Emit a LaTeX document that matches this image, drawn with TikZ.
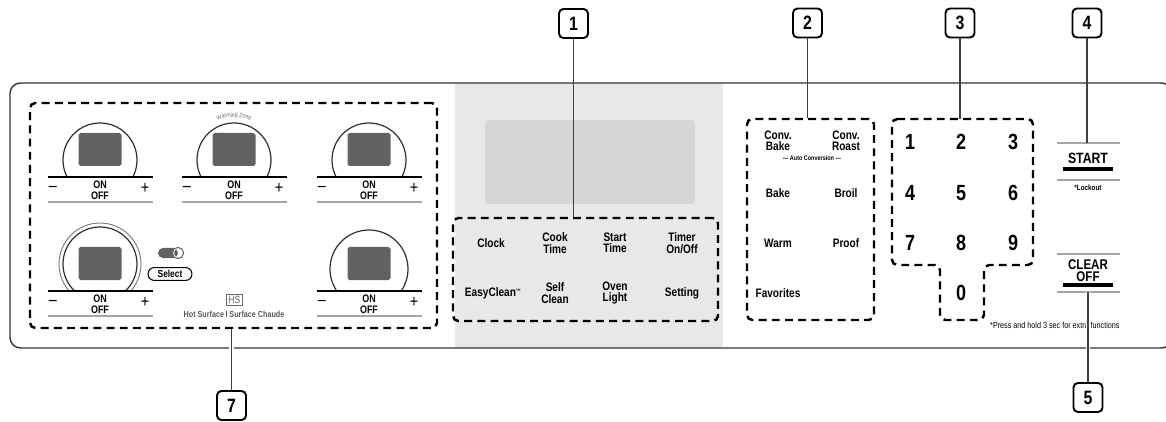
\documentclass[tikz,border=0pt]{standalone}
\usepackage{fontspec}
\setmainfont[FakeStretch=0.82]{Liberation Sans}
\usetikzlibrary{fit, decorations.text}
\definecolor{panelgrey}{RGB}{232,232,232}
\definecolor{displaygrey}{RGB}{214,214,214}
\definecolor{burnergrey}{RGB}{98,98,98}
\definecolor{linegrey}{RGB}{165,165,165}

\begin{document}
\begin{tikzpicture}[x=0.02cm, y=-0.02cm,
  callout/.style={draw, line width=1.1pt, rounded corners=2.5pt, minimum size=16.5pt, inner sep=0pt, font=\fontsize{11}{11}\selectfont\bfseries},
  callline/.style={draw=black!75, line width=0.6pt},
  knockout/.style={preaction={draw=white, line width=2.4pt}},
  dashbox/.style={draw, line width=1.4pt, dash pattern=on 4.5pt off 3pt, rounded corners=3pt, inner sep=0pt},
  key/.style={align=center, font=\fontsize{7}{6.5}\selectfont\bfseries},
  num/.style={font=\fontsize{12.5}{12.5}\selectfont\bfseries},
  onoff/.style={align=center, font=\fontsize{6.2}{6.3}\selectfont\bfseries},
  sign/.style={font=\fontsize{10}{10}\selectfont},
  smalltext/.style={font=\fontsize{4.4}{4.4}\selectfont\bfseries},
]
\useasboundingbox (0,0) rectangle (1166,422);

% grey middle strip and panel outline
\fill[panelgrey] (455,83) rectangle (723,348);
\begin{scope}
\clip (0,0) rectangle (1166,422);
\draw[line width=0.8pt, black!80, rounded corners=6pt] (10,83) rectangle (1172,348);
\end{scope}
\fill[displaygrey, rounded corners=2pt] (485,120) rectangle (695,204);

% cooktop zones
\node[dashbox, fit={(30,103) (437,328)}] (zones) {};
\foreach \cx/\cy/\r/\ly/\sy [count=\i] in {100/160/37/177/133, 234/160/37/177/133, 369/160/37/177/133, 100/264/37/291/247, 369/269/39/291/247}{
  \begin{scope}
    \clip (\cx-60,\ly) rectangle (\cx+60,\cy-\r-6);
    \draw[line width=0.7pt, black!80] (\cx,\cy) circle[radius=\r];
    \ifnum\i=4 \draw[line width=0.5pt, black!55] (\cx,\cy) circle[radius=\r+4]; \fi
  \end{scope}
  \fill[burnergrey, rounded corners=1pt] (\cx-21.5,\sy) rectangle (\cx+21.5,\sy+33);
  \draw[line width=0.7pt] (\cx-52,\ly) -- (\cx+53,\ly);
  \draw[linegrey, line width=0.6pt] (\cx-52,\ly+25) -- (\cx+53,\ly+25);
  \node[onoff] (onoff\i) at (\cx,\ly+13) {ON\\OFF};
  \node[sign] (minus\i) at (\cx-47,\ly+11.5) {–};
  \node[sign] (plus\i) at (\cx+45,\ly+11.5) {+};
}
\path[decorate, decoration={text along path, text={|\fontsize{3.6}{3.6}\selectfont|Warming Zone}, text align=center, text color=black!60}]
  (234,160) ++(243:43) arc[start angle=243, end angle=297, radius=43];

\fill[burnergrey, rounded corners=2.8pt] (158,248) rectangle (178,258);
\draw[white, line width=1pt] (178,253) circle[radius=5];
\draw[burnergrey, line width=0.6pt] (178,253) circle[radius=5.6];
\node[draw, line width=0.6pt, rounded corners=3.6pt, minimum width=25pt, minimum height=7.3pt, inner sep=0pt, font=\fontsize{5.8}{5.8}\selectfont\bfseries] (select) at (170,274) {Select};
\node[draw=black!60, line width=0.5pt, inner sep=0.9pt, font=\fontsize{6}{6}\selectfont, text=black!60] (hs) at (234.5,300) {HS};
\node[smalltext, font=\fontsize{5}{5}\selectfont\bfseries, text=black!65] (hot) at (234,314) {Hot Surface \rule[-0.2pt]{0.8pt}{3.8pt} Surface Chaude};

% oven keys
\node[dashbox, fit={(453,218) (718,321)}] (keys) {};
\node[key] (clock) at (491,243) {Clock};
\node[key] (cooktime) at (555,243) {Cook\\Time};
\node[key] (starttime) at (615,243) {Start\\Time};
\node[key] (timer) at (682,243) {Timer\\On/Off};
\node[key] (easyclean) at (493,293) {EasyClean\raisebox{1.6pt}{\fontsize{3.5}{3.5}\selectfont ™}};
\node[key] (selfclean) at (555,293) {Self\\Clean};
\node[key] (ovenlight) at (615,293) {Oven\\Light};
\node[key] (setting) at (682,293) {Setting};

% cooking modes
\node[dashbox, fit={(747,119) (874,320)}] (modes) {};
\node[key] (convbake) at (778,141) {Conv.\\Bake};
\node[key] (convroast) at (846,141) {Conv.\\Roast};
\node[smalltext, font=\fontsize{3.8}{3.8}\selectfont\bfseries] (autoconv) at (812,158) {— Auto Conversion —};
\node[key] (bake) at (778,193) {Bake};
\node[key] (broil) at (846,193) {Broil};
\node[key] (warm) at (778,243) {Warm};
\node[key] (proof) at (846,243) {Proof};
\node[key] (favorites) at (778,293) {Favorites};

% number pad
\draw[dashbox] (892,119) -- (1033,119) -- (1033,265) -- (984,265) -- (984,320) -- (940,320) -- (940,265) -- (892,265) -- cycle;
\coordinate (padtop) at (960,119);
\foreach \n/\nx/\ny in {1/910/142, 2/961/142, 3/1013/142, 4/910/193, 5/961/193, 6/1013/193, 7/910/243, 8/961/243, 9/1013/243, 0/961/293}
  \node[num] (n\n) at (\nx,\ny) {\n};

% start and clear
\draw[linegrey, line width=0.8pt] (1057,143) coordinate (starttop) -- (1120,143);
\node[key, font=\fontsize{8.5}{8.5}\selectfont\bfseries] (start) at (1088,158) {START};
\draw[line width=1.8pt] (1063,169) -- (1113,169);
\draw[linegrey, line width=0.8pt] (1057,180) -- (1120,180);
\node[smalltext] (lockout) at (1088,188) {*Lockout};
\draw[linegrey, line width=0.8pt] (1057,254) -- (1120,254);
\node[align=center, font=\fontsize{8}{6.9}\selectfont\bfseries] (clear) at (1088,271) {CLEAR\\OFF};
\draw[line width=1.8pt] (1063,285) -- (1113,285);
\draw[linegrey, line width=0.8pt] (1057,292) -- (1120,292) coordinate (clearbot);
\node[smalltext, font=\fontsize{5}{5}\selectfont, anchor=west] (press) at (984,325) {*Press and hold 3 sec for extra functions};

% callouts
\node[callout] (c1) at (573.5,23.5) {1};
\node[callout] (c2) at (807.5,23) {2};
\node[callout] (c3) at (960,23) {3};
\node[callout] (c4) at (1087,23) {4};
\node[callout] (c5) at (1088,397.5) {5};
\node[callout] (c7) at (231.5,405.5) {7};
\draw[callline] (c1.south) -- (c1.south |- keys.north);
\draw[callline] (c2.south) -- (c2.south |- modes.north);
\draw[callline] (c3.south) -- (c3.south |- padtop);
\draw[callline] (c4.south) -- (c4.south |- starttop);
\draw[callline, knockout] (c5.north |- clearbot) -- (c5.north);
\draw[callline, knockout] (c7.north |- zones.south) -- (c7.north);
\end{tikzpicture}
\end{document}
